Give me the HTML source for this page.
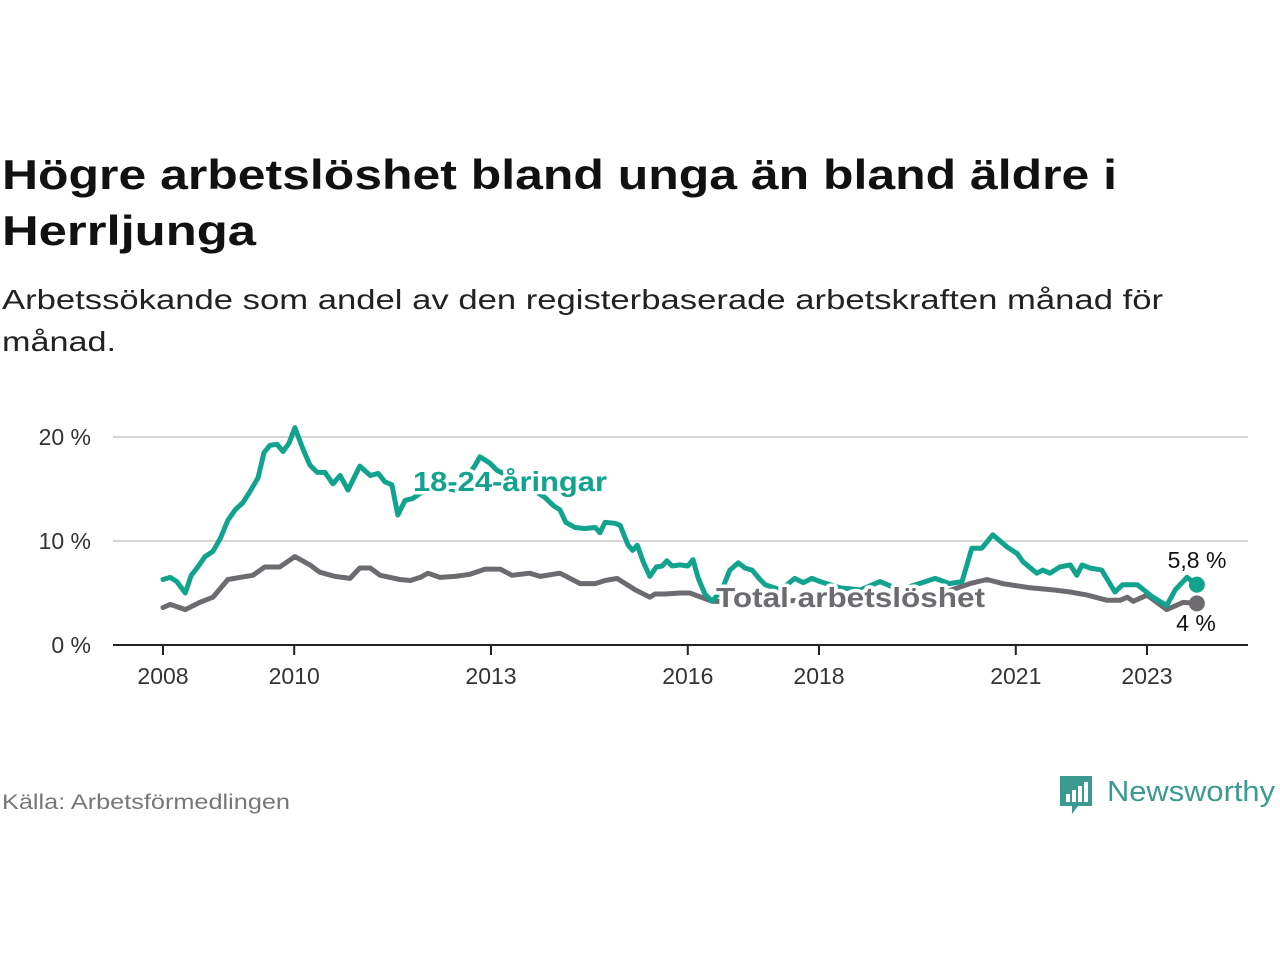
<!DOCTYPE html>
<html><head><meta charset="utf-8"><style>
body{margin:0;width:1280px;height:960px;background:#fff;font-family:"Liberation Sans",sans-serif;overflow:hidden;position:relative}
</style></head><body>
<svg id="chart" width="1280" height="960" style="position:absolute;left:0;top:0" xmlns="http://www.w3.org/2000/svg">
<g font-family="Liberation Sans">
<text x="2" y="189" font-size="42" font-weight="bold" fill="#111" textLength="1115" lengthAdjust="spacingAndGlyphs">Högre arbetslöshet bland unga än bland äldre i</text>
<text x="2" y="245" font-size="42" font-weight="bold" fill="#111" textLength="254" lengthAdjust="spacingAndGlyphs">Herrljunga</text>
<text x="2" y="309" font-size="28" fill="#222" textLength="1161" lengthAdjust="spacingAndGlyphs">Arbetssökande som andel av den registerbaserade arbetskraften månad för</text>
<text x="2" y="351" font-size="28" fill="#222" textLength="114" lengthAdjust="spacingAndGlyphs">månad.</text>
<text x="2" y="809" font-size="21" fill="#777" textLength="288" lengthAdjust="spacingAndGlyphs">Källa: Arbetsförmedlingen</text>
<g>
<path d="M1060 776h32v30h-14l-6 8v-8h-12z" fill="#3a9a8f"/><rect x="1066" y="794" width="4" height="8" fill="#fff"/><rect x="1072" y="790" width="4" height="12" fill="#fff"/><rect x="1078" y="786" width="4" height="16" fill="#fff"/><rect x="1084" y="782" width="4" height="20" fill="#fff"/>
<text x="1107" y="801" font-size="29" fill="#3a9a8f" textLength="168" lengthAdjust="spacingAndGlyphs">Newsworthy</text>
</g>
</g>
</svg>
<script>
const youthDates=[2008.00,2008.11,2008.21,2008.34,2008.43,2008.53,2008.64,2008.76,2008.87,2008.99,2009.10,2009.22,2009.33,2009.45,2009.54,2009.63,2009.74,2009.83,2009.92,2010.01,2010.13,2010.24,2010.35,2010.47,2010.59,2010.70,2010.82,2011.00,2011.16,2011.28,2011.38,2011.49,2011.58,2011.69,2011.81,2011.92,2012.22,2012.45,2012.60,2012.76,2012.83,2012.98,2013.09,2013.44,2013.82,2013.95,2014.05,2014.14,2014.28,2014.43,2014.59,2014.66,2014.74,2014.89,2014.97,2015.09,2015.16,2015.23,2015.32,2015.42,2015.52,2015.61,2015.68,2015.76,2015.88,2016.00,2016.08,2016.16,2016.26,2016.37,2016.52,2016.64,2016.77,2016.87,2016.98,2017.10,2017.18,2017.41,2017.63,2017.76,2017.89,2018.02,2018.32,2018.63,2018.93,2019.23,2019.62,2019.77,2019.99,2020.18,2020.33,2020.48,2020.65,2020.87,2021.02,2021.11,2021.32,2021.41,2021.52,2021.67,2021.83,2021.93,2022.01,2022.13,2022.31,2022.51,2022.63,2022.85,2023.09,2023.30,2023.43,2023.61,2023.76];
const youthValues=[6.3,6.5,6.1,5.0,6.7,7.5,8.5,9.0,10.2,12.0,13.0,13.7,14.8,16.1,18.5,19.2,19.3,18.6,19.4,20.9,18.9,17.3,16.6,16.6,15.5,16.3,14.9,17.2,16.3,16.5,15.7,15.4,12.5,13.9,14.1,14.6,15.2,14.9,15.9,17.3,18.1,17.5,16.8,15.7,14.2,13.4,13.0,11.8,11.3,11.2,11.3,10.8,11.8,11.7,11.5,9.6,9.1,9.6,8.0,6.6,7.5,7.6,8.1,7.6,7.7,7.6,8.2,6.4,4.9,4.2,5.3,7.2,7.9,7.4,7.2,6.3,5.8,5.3,6.4,6.0,6.4,6.1,5.5,5.3,6.1,5.3,6.1,6.4,5.9,6.1,9.3,9.3,10.6,9.4,8.8,8.0,6.9,7.2,6.9,7.5,7.7,6.7,7.7,7.4,7.2,5.1,5.8,5.8,4.6,3.8,5.3,6.5,5.8];
const totalDates=[2008.00,2008.11,2008.34,2008.56,2008.76,2008.99,2009.17,2009.37,2009.55,2009.78,2010.01,2010.24,2010.39,2010.62,2010.85,2011.00,2011.16,2011.31,2011.61,2011.77,2011.92,2012.04,2012.22,2012.45,2012.68,2012.91,2013.14,2013.32,2013.59,2013.75,2014.05,2014.36,2014.59,2014.74,2014.92,2015.20,2015.42,2015.50,2015.65,2015.88,2016.03,2016.37,2017.10,2017.71,2018.17,2018.78,2019.23,2019.84,2020.30,2020.56,2020.80,2021.22,2021.57,2021.83,2022.09,2022.39,2022.59,2022.70,2022.79,2023.00,2023.30,2023.55,2023.76];
const totalValues=[3.6,3.9,3.4,4.1,4.6,6.3,6.5,6.7,7.5,7.5,8.5,7.7,7.0,6.6,6.4,7.4,7.4,6.7,6.3,6.2,6.5,6.9,6.5,6.6,6.8,7.3,7.3,6.7,6.9,6.6,6.9,5.9,5.9,6.2,6.4,5.3,4.6,4.9,4.9,5.0,5.0,4.2,4.1,4.3,4.6,4.6,4.5,4.9,5.9,6.3,5.9,5.5,5.3,5.1,4.8,4.3,4.3,4.6,4.2,4.8,3.4,4.1,4.0];
const xTicks=[2008,2010,2013,2016,2018,2021,2023];
const yTicks=[0,10,20];
const yTickLabels=["0 %","10 %","20 %"];
const NS="http://www.w3.org/2000/svg";
const svg=document.getElementById('chart');
const x=d=>163+(d-2008)*65.6;
const y=v=>645-v*10.4;
function mk(t,a){const e=document.createElementNS(NS,t);for(const k in a)e.setAttribute(k,a[k]);svg.appendChild(e);return e;}
yTicks.forEach((t,i)=>{
  if(t>0){const g=mk('line',{x1:113,x2:1248,y1:y(t),y2:y(t),stroke:'#d6d6d6','stroke-width':2});
  
  }
  const l=mk('text',{x:91,y:y(t)+8,'text-anchor':'end','font-size':23,fill:'#333','font-family':'Liberation Sans'});
  l.textContent=yTickLabels[i];
  
  
});
const ax=mk('line',{x1:113,x2:1248,y1:645,y2:645,stroke:'#222','stroke-width':2});


xTicks.forEach(t=>{
  const tk=mk('line',{x1:x(t),x2:x(t),y1:645,y2:655,stroke:'#222','stroke-width':2});
  
  
  const l=mk('text',{x:x(t),y:684,'text-anchor':'middle','font-size':23,fill:'#333','font-family':'Liberation Sans'});
  l.textContent=t;
  
  
});
function line(ds,vs,c,name){
  const p=mk('path',{d:ds.map((d,i)=>(i?'L':'M')+x(d).toFixed(1)+','+y(vs[i]).toFixed(1)).join(''),fill:'none',stroke:c,'stroke-width':5,'stroke-linejoin':'round','stroke-linecap':'round'});
  
  
  const n=ds.length-1;
  const dot=mk('circle',{cx:x(ds[n]),cy:y(vs[n]),r:8,fill:c});
  
  
}
line(totalDates,totalValues,'#6d6b70','total-line');
line(youthDates,youthValues,'#12a38f','youth-line');
function lab(tx,xx,yy,c,name,bold,anchor,len){
  const a={x:xx,y:yy,'font-size':bold?28:23,'font-weight':bold?'bold':'normal',fill:c,stroke:'#fff','stroke-width':bold?7:5,'paint-order':'stroke','stroke-linejoin':'round','text-anchor':anchor||'start','font-family':'Liberation Sans'};
  if(len){a.textLength=len;a.lengthAdjust='spacingAndGlyphs';}
  const t=mk('text',a);
  t.textContent=tx;
  
  
}
lab('18-24-åringar',413,491,'#12a38f','youth-series-label',true,null,194);
lab('Total arbetslöshet',716,607,'#6d6b70','total-series-label',true,null,269);
lab('5,8 %',1197,568,'#111','youth-end-value',false,'middle');
lab('4 %',1196,631,'#111','total-end-value',false,'middle');
</script>
</body></html>
